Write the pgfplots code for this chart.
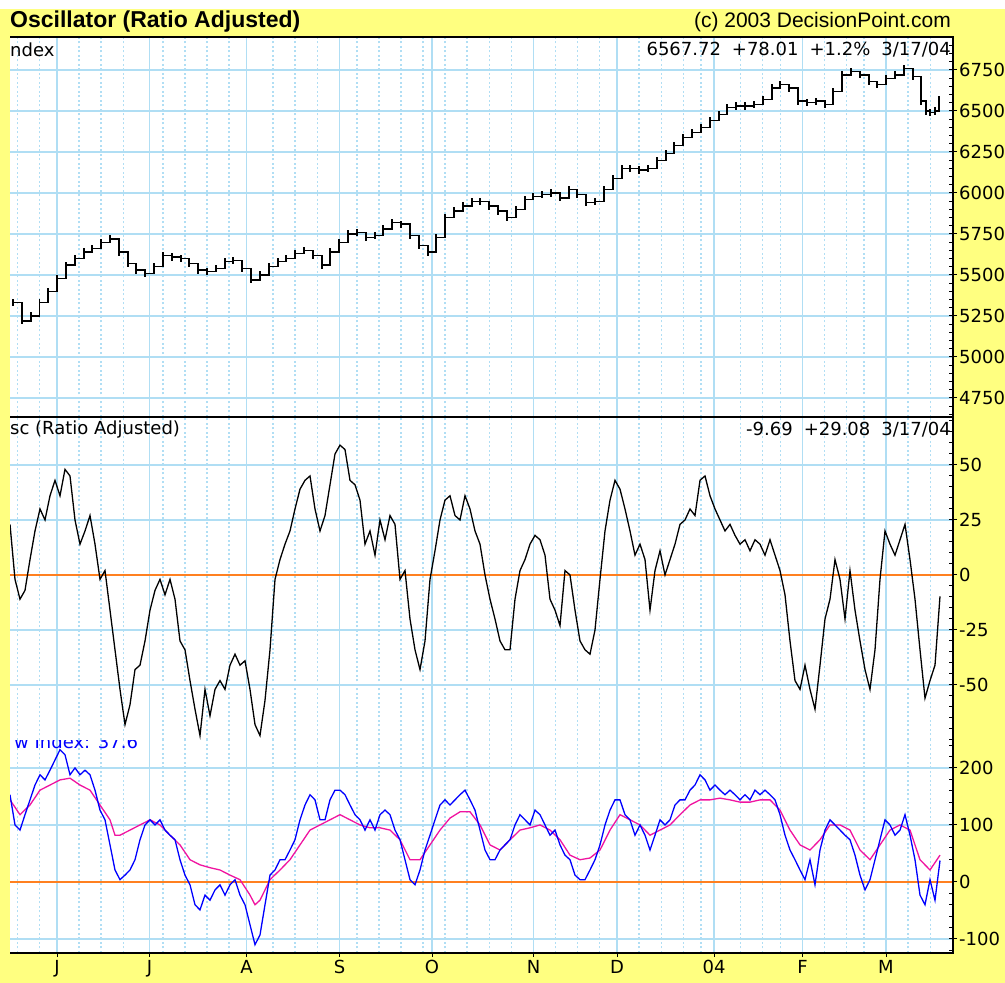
\documentclass[border=0pt]{standalone}
\usepackage{fontspec}
\setmainfont{DejaVu Sans}
\newfontfamily\arialfont{Liberation Sans}
\usepackage{pgfplots}
\usepackage{pgfplotstable}
\pgfplotsset{compat=1.18}
\definecolor{bgyellow}{RGB}{255,255,128}
\definecolor{gridblue}{RGB}{176,222,244}
\definecolor{zeroorange}{RGB}{255,128,32}
\definecolor{osblue}{RGB}{0,0,255}
\definecolor{osmag}{RGB}{240,20,160}

\pgfplotstableread{
x y
0.6 5330
2.4 5220
4.2 5250
5.9 5330
7.6 5400
9.4 5480
11.2 5560
13 5600
14.8 5640
16.4 5660
18.2 5700
20 5720
21.8 5640
23.6 5570
25.2 5530
27 5510
28.8 5550
30.6 5620
32.4 5610
34.2 5600
35.8 5570
37.6 5530
39.4 5520
41.2 5540
43 5580
44.6 5590
46.4 5540
48.2 5470
50 5500
51.8 5550
53.6 5580
55.2 5600
57 5630
58.8 5650
60.6 5620
62.4 5560
64 5640
65.8 5700
67.6 5750
69.4 5760
71.2 5730
73 5740
74.6 5780
76.4 5820
78.2 5810
80 5740
81.8 5680
83.6 5640
85.2 5730
87 5850
88.8 5890
90.6 5920
92.4 5950
94 5950
95.8 5920
97.6 5890
99.4 5850
101.2 5900
103 5960
104.6 5980
106.4 5990
108.2 6000
110 5970
111.8 6020
113.4 5990
115.2 5940
117 5950
118.8 6020
120.6 6090
122.4 6150
124 6150
125.8 6140
127.6 6150
129.4 6200
131.2 6240
132.8 6290
134.6 6340
136.4 6370
138.2 6400
140 6440
141.8 6480
143.4 6520
145.2 6530
147 6530
148.8 6540
150.6 6570
152.4 6640
154 6660
155.8 6640
157.6 6560
159.4 6550
161.2 6560
163 6540
164.6 6620
166.4 6720
168.2 6740
170 6720
171.8 6680
173.4 6660
175.2 6700
177 6720
178.8 6760
180.6 6710
182.2 6560
183.2 6500
184 6490
185 6500
185.8 6568
}\priceTable

\pgfplotstableread{
x y
0 23
1 -2
2 -11
3 -7
4 7
5 20
6 30
7 25
8 36
9 43
10 36
11 48
12 45
13 25
14 14
15 20
16 27
17 14
18 -2
19 2
20 -16
21 -34
22 -52
23 -68
24 -59
25 -43
26 -41
27 -30
28 -16
29 -7
30 -2
31 -9
32 -2
33 -11
34 -30
35 -34
36 -48
37 -61
38 -73
39 -52
40 -64
41 -52
42 -48
43 -52
44 -41
45 -36
46 -41
47 -39
48 -52
49 -68
50 -73
51 -57
52 -34
53 -2
54 7
55 14
56 20
57 30
58 39
59 43
60 45
61 30
62 20
63 27
64 41
65 55
66 59
67 57
68 43
69 41
70 34
71 14
72 20
73 9
74 25
75 16
76 27
77 23
78 -2
79 2
80 -20
81 -34
82 -43
83 -30
84 -2
85 11
86 25
87 34
88 36
89 27
90 25
91 36
92 30
93 20
94 14
95 0
96 -11
97 -20
98 -30
99 -34
100 -34
101 -11
102 2
103 7
104 14
105 18
106 16
107 9
108 -11
109 -16
110 -23
111 2
112 0
113 -16
114 -30
115 -34
116 -36
117 -25
118 -2
119 20
120 34
121 43
122 39
123 30
124 20
125 9
126 14
127 7
128 -16
129 2
130 11
131 0
132 7
133 14
134 23
135 25
136 30
137 27
138 43
139 45
140 36
141 30
142 25
143 20
144 23
145 18
146 14
147 16
148 11
149 16
150 14
151 9
152 16
153 9
154 2
155 -9
156 -30
157 -48
158 -52
159 -41
160 -52
161 -61
162 -41
163 -20
164 -11
165 7
166 -2
167 -20
168 2
169 -16
170 -30
171 -43
172 -52
173 -34
174 -2
175 20
176 14
177 9
178 16
179 23
180 7
181 -11
182 -34
183 -56
184 -48
185 -41
186 -9.69
}\oscTable

\pgfplotstableread{
x y
0 153
1 100
2 91
3 118
4 144
5 170
6 188
7 179
8 196
9 214
10 232
11 223
12 188
13 200
14 188
15 196
16 188
17 161
18 126
19 109
20 65
21 21
22 4
23 12
24 21
25 39
26 74
27 100
28 109
29 100
30 109
31 91
32 82
33 74
34 39
35 12
36 -5
37 -40
38 -49
39 -23
40 -32
41 -14
42 -5
43 -23
44 -5
45 4
46 -23
47 -40
48 -75
49 -110
50 -93
51 -40
52 12
53 21
54 39
55 39
56 56
57 74
58 109
59 135
60 153
61 144
62 109
63 109
64 144
65 161
66 161
67 153
68 135
69 118
70 109
71 91
72 109
73 91
74 118
75 126
76 118
77 91
78 74
79 39
80 4
81 -5
82 21
83 56
84 82
85 109
86 135
87 144
88 135
89 144
90 153
91 161
92 144
93 126
94 91
95 56
96 39
97 39
98 56
99 65
100 74
101 100
102 118
103 109
104 100
105 126
106 118
107 100
108 82
109 91
110 65
111 47
112 39
113 12
114 4
115 4
116 21
117 39
118 65
119 100
120 126
121 144
122 144
123 118
124 109
125 82
126 100
127 82
128 56
129 82
130 109
131 100
132 109
133 135
134 144
135 144
136 161
137 170
138 188
139 179
140 161
141 170
142 161
143 153
144 161
145 153
146 144
147 153
148 144
149 161
150 153
151 161
152 153
153 144
154 118
155 82
156 56
157 39
158 21
159 4
160 39
161 -5
162 56
163 91
164 109
165 100
166 91
167 82
168 74
169 47
170 12
171 -14
172 4
173 39
174 74
175 109
176 100
177 82
178 91
179 118
180 82
181 39
182 -23
183 -40
184 4
185 -32
186 37.6
}\breadthTable

\pgfplotstableread{
x y
0 144
2 118
4 135
6 161
8 170
10 179
12 182
14 170
16 161
18 135
20 109
21 82
22 82
24 91
26 100
28 109
30 100
32 82
34 65
36 39
38 30
40 25
42 21
44 12
46 4
48 -23
49 -40
50 -32
52 4
54 21
56 39
58 65
60 91
62 100
64 109
66 118
68 109
70 100
72 95
74 95
76 91
78 74
80 39
82 39
84 65
86 91
88 112
90 123
92 123
94 100
96 65
98 56
100 74
102 91
104 95
106 100
108 91
110 74
112 47
114 39
116 42
118 56
120 91
122 118
124 109
126 100
128 82
130 91
132 100
134 118
136 135
138 144
140 144
142 147
144 144
146 140
148 140
150 144
152 144
154 126
156 91
158 65
160 56
162 74
164 100
166 100
168 91
170 56
172 39
174 65
176 91
178 100
180 91
182 39
184 21
186 47
}\smoothTable

\pgfplotsset{
  panel/.style={
    scale only axis, width=943pt,
    xmin=0, xmax=188.6,
    xtick={9.4,27.9,47.3,65.9,84.4,104.7,121.4,140.8,158.5,175.2},
    minor xtick={1.5,5.9,13.8,18.2,22.7,30.6,35.0,39.4,43.8,52.6,57.0,61.5,69.4,73.8,78.2,82.6,87.0,91.4,95.9,100.3,109.1,113.5,117.9,125.8,130.3,134.7,138.2,146.1,150.5,154.1,162.9,167.3,170.8,179.6,184.1},
    xmajorgrids=true, xminorgrids=true, ymajorgrids=true,
    major grid style={gridblue, line width=1.7pt},
    minor grid style={gridblue, line width=1.5pt, dash pattern=on 2pt off 2.5pt},
    axis line style={draw=none},
    axis background/.style={fill=white},
    ytick pos=right, yticklabel pos=right, xtick pos=bottom,
    tick align=outside,
    major tick length=4pt, minor tick length=4pt,
    tick style={black, line width=1pt},
    minor x tick style={draw=none},
    minor y tick style={xshift=-4pt},
    tick label style={font=\fontsize{18}{18}\selectfont, text=black},
    /pgf/number format/1000 sep={},
    /pgf/number format/assume math mode=true,
    yticklabel style={inner sep=2pt},
  },
}

\begin{document}
\begin{tikzpicture}
\useasboundingbox (0,0) rectangle (1005pt,983pt);
\fill[bgyellow] (0,0) rectangle (1005pt,983pt);
\fill[white] (0,974pt) rectangle (1005pt,983pt);

% bottom panel
\begin{axis}[panel, name=bot, at={(10pt,30pt)}, anchor=south west, height=213pt,
  ymin=-124.6, ymax=249,
  ytick={-100,100,200}, minor ytick={-120,-100,...,240},
  extra y ticks={0}, extra y tick style={major grid style={zeroorange, line width=1.7pt}},
  xticklabels={J,J,A,S,O,N,D,04,F,M},
  xticklabel style={font=\fontsize{18}{18}\selectfont, inner sep=3pt}]
\addplot[osmag, line width=1.3pt] table {\smoothTable};
\addplot[osblue, line width=1.3pt] table {\breadthTable};
\end{axis}
\node[anchor=west, inner sep=0, text=osblue, font=\fontsize{18}{18}\selectfont] at (14pt,241pt) {w Index: 37.6};

% middle panel
\begin{axis}[panel, name=mid, at={(10pt,243pt)}, anchor=south west, height=323pt,
  ymin=-75, ymax=71.8,
  ytick={-50,-25,25,50}, minor ytick={-75,-70,...,70},
  extra y ticks={0}, extra y tick style={major grid style={zeroorange, line width=1.7pt}},
  xticklabels={}, major x tick style={draw=none}]
\addplot[black, line width=1.3pt] table {\oscTable};
\end{axis}

% top panel
\begin{axis}[panel, name=top, at={(10pt,566pt)}, anchor=south west, height=380pt,
  ymin=4634, ymax=6951,
  ytick={4750,5000,...,6750}, minor ytick={4650,4700,...,6950},
  xticklabels={}, major x tick style={draw=none}]
\addplot[black, line width=1.3pt, const plot,
  error bars/.cd, y dir=both, y fixed=22,
  error bar style={black, line width=1.3pt}, error mark=none] table {\priceTable};
\end{axis}

% frame
\draw[black, line width=2pt] (10pt,946pt) -- (953pt,946pt) -- (953pt,30pt) -- (10pt,30pt);
\draw[black, line width=2pt] (10pt,566pt) -- (953pt,566pt);

% texts
\node[anchor=west, inner sep=0, font=\arialfont\bfseries\fontsize{23}{23}\selectfont] at (10pt,961pt) {Oscillator (Ratio Adjusted)};
\node[anchor=east, inner sep=0, font=\arialfont\fontsize{21}{21}\selectfont] at (951pt,961pt) {(c) 2003 DecisionPoint.com};
\node[anchor=west, inner sep=0, font=\fontsize{18}{18}\selectfont] at (10pt,933pt) {ndex};
\node[anchor=east, inner sep=0, font=\fontsize{18}{18}\selectfont] at (951pt,933pt) {6567.72\hspace{11pt}+78.01\hspace{11pt}+1.2\%\hspace{11pt}3/17/04};
\node[anchor=west, inner sep=0, font=\fontsize{18}{18}\selectfont] at (10pt,553pt) {sc (Ratio Adjusted)};
\node[anchor=east, inner sep=0, font=\fontsize{18}{18}\selectfont] at (951pt,553pt) {-9.69\hspace{11pt}+29.08\hspace{11pt}3/17/04};
\end{tikzpicture}
\end{document}
